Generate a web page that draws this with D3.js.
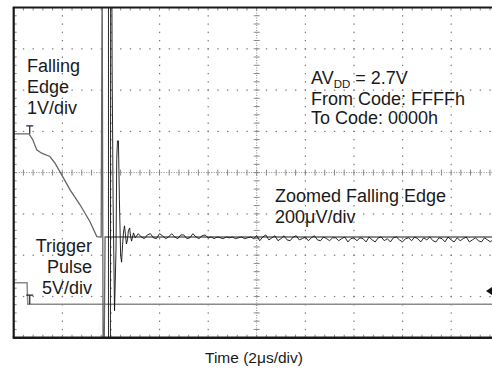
<!DOCTYPE html>
<html><head><meta charset="utf-8">
<script src="https://cdn.jsdelivr.net/npm/d3@7"></script>
<style>
body{margin:0;background:#fff}
svg{display:block}
text{font-family:"Liberation Sans",Arial,Helvetica,sans-serif;fill:#1a1a1a}
</style>
</head><body>
<svg id="c" width="492" height="373"></svg>
<script>
// ---------- data (time in µs, 2 µs/div; vertical in screen divisions) ----------
const xDomain = [0, 20];
const yDomain = [0, 8];
const xMajor = [2, 4, 6, 8, 12, 14, 16, 18];
const yMajor = [1, 2, 3, 5, 6, 7];
const xCenter = 10, yCenter = 4;

// Falling edge, 1V/div (grey)
const fallT = [0, 0.63, 0.79, 0.95, 1.15, 1.49, 1.70, 1.98, 2.32, 2.73, 3.14, 3.42, 3.60, 3.64, 3.68, 3.72, 3.76, 20];
const fallV = [4.94, 4.94, 4.79, 4.55, 4.47, 4.39, 4.23, 3.94, 3.58, 3.22, 2.81, 2.45, 2.44, 8.7, -0.6, -0.6, 2.44, 2.44];

// Trigger pulse, 5V/div (light grey)
const trigT = [0, 0.55, 0.58, 20];
const trigV = [1.33, 1.33, 0.81, 0.81];

// Zoomed falling edge, 200µV/div (black): glitch + ringing
const zoomT = [3.90, 3.90, 3.98, 3.99, 4.04, 4.05, 4.09, 4.15, 4.21, 4.24, 4.27, 4.31, 4.35, 4.40, 4.44, 4.48, 4.52, 4.56, 4.60, 4.64, 4.68, 4.72, 4.77, 4.81, 4.85, 4.89, 4.93];
const zoomV = [8.7, -0.6, -0.6, 8.7, 8.7, 6.61, 3.34, 0.65, 2.13, 4.31, 4.77, 4.77, 3.34, 2.00, 1.83, 2.25, 2.56, 2.71, 2.49, 2.27, 2.37, 2.59, 2.66, 2.46, 2.34, 2.44, 2.54];
// Zoomed settled noise, sampled every 0.125 µs from 5.0 µs
const noiseStart = 5.0, noiseStep = 0.125;
const noiseV = [
 2.42,2.52,2.44,2.40,2.49,2.52,2.42,2.40,2.52,2.47,2.40,2.44,2.52,2.44,2.40,2.49,2.49,2.40,2.42,2.52,2.44,2.40,2.47,2.49,
 2.42,2.44,2.40,2.44,2.42,2.40,2.44,2.42,2.44,2.40,2.42,2.44,2.40,2.42,2.44,
 2.40,2.47,2.35,2.44,2.49,2.37,2.42,2.47,2.35,2.40,2.47,2.37,2.35,2.44,2.47,2.37,2.40,2.44,2.35,2.42,2.47,2.37,2.35,2.44,2.40,2.35,2.42,
 2.42,2.35,2.40,2.44,2.32,2.40,2.42,2.35,2.42,2.40,2.32,2.44,2.37,2.32,2.42,2.44,2.35,2.40,2.32,2.42,2.44,2.37,2.32,2.40,2.42,
 2.35,2.44,2.40,2.32,2.42,2.37,2.44,2.35,2.32,2.42,2.40,2.32,2.44,2.37,2.32,2.42,2.35,2.40,2.44,2.32,2.37,2.42,2.35,2.32,2.42,
 2.37,2.32,2.40
];

// Channel markers
const trigMarkT = 0.66;
const fallMark = [4.94, 5.13];
const trigMark = [0.81, 1.03];
const refMarkerV = 1.13;

// Labels
const labelsLeftTop = ["Falling", "Edge", "1V/div"];
const labelsLeftBottom = ["Trigger", "Pulse", "5V/div"];
const condLines = ["From Code: FFFFh", "To Code: 0000h"];
const zoomLabel = ["Zoomed Falling Edge", "200\u03BCV/div"];
const xTitle = "Time (2\u03BCs/div)";

// ---------- drawing ----------
const svg = d3.select("#c");
const L = 13.7, R = 499.7, T = 7.5, B = 337.7;
const x = d3.scaleLinear().domain(xDomain).range([L, R]);
const y = d3.scaleLinear().domain(yDomain).range([B, T]);

svg.append("defs").append("clipPath").attr("id", "clip")
  .append("rect").attr("x", L).attr("y", T).attr("width", R - L).attr("height", B - T);

const grid = svg.append("g");
const minorX = d3.range(1, 50).map(k => k * 0.4);
const minorY = d3.range(1, 40).map(k => k * 0.2);

// dotted major grid lines
xMajor.forEach(t => {
  grid.selectAll(null).data(minorY).join("rect")
    .attr("x", x(t) - 0.5).attr("y", d => y(d) - 0.6).attr("width", 1.2).attr("height", 1.4)
    .attr("fill", "#7a7a7a");
});
yMajor.forEach(v => {
  grid.selectAll(null).data(minorX).join("rect")
    .attr("x", d => x(d) - 0.6).attr("y", y(v) - 0.5).attr("width", 1.4).attr("height", 1.2)
    .attr("fill", "#7a7a7a");
});
// centre lines with crossing ticks
grid.append("line").attr("x1", x(xCenter)).attr("x2", x(xCenter)).attr("y1", T).attr("y2", B)
  .attr("stroke", "#888").attr("stroke-width", 1).attr("stroke-dasharray", "1,1.5");
grid.append("line").attr("x1", L).attr("x2", R).attr("y1", y(yCenter)).attr("y2", y(yCenter))
  .attr("stroke", "#888").attr("stroke-width", 1).attr("stroke-dasharray", "1,1.5");
grid.selectAll(null).data(minorY).join("line")
  .attr("x1", x(xCenter) - 3).attr("x2", x(xCenter) + 3)
  .attr("y1", d => y(d)).attr("y2", d => y(d)).attr("stroke", "#888").attr("stroke-width", 1);
grid.selectAll(null).data(minorX).join("line")
  .attr("y1", y(yCenter) - 3).attr("y2", y(yCenter) + 3)
  .attr("x1", d => x(d)).attr("x2", d => x(d)).attr("stroke", "#888").attr("stroke-width", 1);
// border ticks
grid.selectAll(null).data(minorX).join("line")
  .attr("x1", d => x(d)).attr("x2", d => x(d)).attr("y1", T).attr("y2", T + 3)
  .attr("stroke", "#888").attr("stroke-width", 1);
grid.selectAll(null).data(minorX).join("line")
  .attr("x1", d => x(d)).attr("x2", d => x(d)).attr("y1", B).attr("y2", B - 3)
  .attr("stroke", "#888").attr("stroke-width", 1);
grid.selectAll(null).data(minorY).join("line")
  .attr("x1", L).attr("x2", L + 3).attr("y1", d => y(d)).attr("y2", d => y(d))
  .attr("stroke", "#888").attr("stroke-width", 1);

// traces
const traces = svg.append("g").attr("clip-path", "url(#clip)");
const line = d3.line().x(d => x(d[0])).y(d => y(d[1]));
const trigPts = trigT.map((t, i) => [t, trigV[i]]);
const fallPts = fallT.map((t, i) => [t, fallV[i]]);
const zoomPts = zoomT.map((t, i) => [t, zoomV[i]])
  .concat(noiseV.map((v, i) => [noiseStart + i * noiseStep, v]));

traces.append("path").attr("d", line(trigPts)).attr("fill", "none")
  .attr("stroke", "#8a8a8a").attr("stroke-width", 1.5);
traces.append("path").attr("d", line(fallPts)).attr("fill", "none")
  .attr("stroke", "#666").attr("stroke-width", 1.3);
traces.append("path").attr("d", line(zoomPts)).attr("fill", "none")
  .attr("stroke", "#111").attr("stroke-width", 0.9);

// trigger-point "T" markers
[fallMark, trigMark].forEach(m => {
  traces.append("line").attr("x1", x(trigMarkT)).attr("x2", x(trigMarkT))
    .attr("y1", y(m[0])).attr("y2", y(m[1])).attr("stroke", "#222").attr("stroke-width", 1.2);
  traces.append("line").attr("x1", x(trigMarkT) - 3.5).attr("x2", x(trigMarkT) + 3.5)
    .attr("y1", y(m[1])).attr("y2", y(m[1])).attr("stroke", "#222").attr("stroke-width", 1.2);
});

// frame
svg.append("line").attr("x1", L - 1).attr("x2", 492).attr("y1", T).attr("y2", T)
  .attr("stroke", "#1a1a1a").attr("stroke-width", 2.2);
svg.append("line").attr("x1", L - 1).attr("x2", 492).attr("y1", B).attr("y2", B)
  .attr("stroke", "#1a1a1a").attr("stroke-width", 2.6);
svg.append("line").attr("x1", L).attr("x2", L).attr("y1", T).attr("y2", B)
  .attr("stroke", "#1a1a1a").attr("stroke-width", 2.2);

// reference marker at right edge
const ry = y(refMarkerV);
svg.append("path").attr("d", `M486,${ry}L492,${ry - 4}L492,${ry + 4}Z`).attr("fill", "#111");

// labels
const fs = 18;
svg.append("g").selectAll("text").data(labelsLeftTop).join("text")
  .attr("x", 27).attr("y", (d, i) => 71.5 + i * 21).attr("font-size", fs).text(d => d);
svg.append("g").selectAll("text").data(labelsLeftBottom).join("text")
  .attr("x", 92).attr("y", (d, i) => 252 + i * 21).attr("font-size", fs)
  .attr("text-anchor", "end").text(d => d);

const t0 = svg.append("text").attr("x", 311).attr("y", 84).attr("font-size", fs);
t0.append("tspan").text("AV");
t0.append("tspan").attr("font-size", 11.5).attr("dy", 3.5).text("DD");
t0.append("tspan").attr("dy", -3.5).text(" = 2.7V");
svg.append("g").selectAll("text").data(condLines).join("text")
  .attr("x", 311).attr("y", (d, i) => 105 + i * 19).attr("font-size", fs).text(d => d);

svg.append("g").selectAll("text").data(zoomLabel).join("text")
  .attr("x", 275).attr("y", (d, i) => 202 + i * 21).attr("font-size", fs).text(d => d);

svg.append("text").attr("x", 254).attr("y", 363).attr("text-anchor", "middle")
  .attr("font-size", 15.5).text(xTitle);
</script>
</body></html>
